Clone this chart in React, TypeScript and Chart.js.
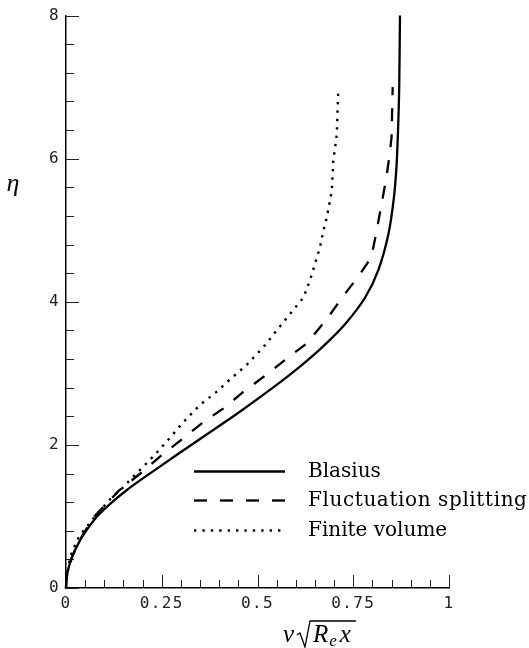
import React, { useEffect, useRef } from 'react';
import { Chart, registerables } from 'chart.js';

Chart.register(...registerables);

// ---- data ----
const seriesNames = ['Blasius', 'Fluctuation splitting', 'Finite volume'];

const xTickLabels = ['0', '0.25', '0.5', '0.75', '1'];
const yTickLabels = ['0', '2', '4', '6', '8'];

const blasiusV = [0, 0.001, 0.005, 0.017, 0.037, 0.058, 0.081, 0.116, 0.159, 0.211, 0.281, 0.371, 0.453, 0.543, 0.610, 0.670, 0.729, 0.781, 0.816, 0.842, 0.856, 0.863, 0.867, 0.870, 0.872];
const blasiusEta = [0, 0.1, 0.25, 0.45, 0.67, 0.84, 1.0, 1.18, 1.37, 1.57, 1.83, 2.16, 2.46, 2.81, 3.09, 3.37, 3.69, 4.06, 4.45, 4.95, 5.45, 5.9, 6.4, 7.0, 8.0];

const fluctV = [0, 0.001, 0.005, 0.017, 0.036, 0.055, 0.074, 0.138, 0.194, 0.246, 0.303, 0.359, 0.411, 0.463, 0.533, 0.577, 0.629, 0.681, 0.724, 0.768, 0.797, 0.811, 0.836, 0.846, 0.850, 0.853];
const fluctEta = [0, 0.1, 0.25, 0.45, 0.67, 0.84, 1.0, 1.36, 1.60, 1.84, 2.08, 2.32, 2.51, 2.74, 3.02, 3.21, 3.42, 3.76, 4.08, 4.39, 4.62, 4.99, 5.72, 6.1, 6.3, 7.0];

const fvV = [0, 0.002, 0.011, 0.029, 0.046, 0.068, 0.095, 0.12, 0.146, 0.176, 0.21, 0.235, 0.27, 0.305, 0.35, 0.395, 0.425, 0.472, 0.516, 0.550, 0.585, 0.620, 0.637, 0.650, 0.663, 0.672, 0.681, 0.694, 0.698, 0.707, 0.711];
const fvEta = [0, 0.15, 0.44, 0.67, 0.80, 0.95, 1.12, 1.27, 1.39, 1.56, 1.74, 1.88, 2.09, 2.31, 2.56, 2.75, 2.90, 3.12, 3.37, 3.60, 3.83, 4.06, 4.30, 4.53, 4.76, 4.99, 5.18, 5.55, 5.97, 6.34, 6.97];

const toPoints = (xs: number[], ys: number[]) => xs.map((x, i) => ({ x, y: ys[i] }));

const findLabel = (labels: string[], value: number) =>
  labels.find((l) => Math.abs(parseFloat(l) - value) < 1e-9) ?? '';

const decorPlugin = {
  id: 'decor',
  beforeDraw(chart: any) {
    chart.ctx.letterSpacing = '1.4px';
  },
  beforeDatasetsDraw(chart: any) {
    const ctx = chart.ctx;
    const xs = chart.scales.x;
    const ys = chart.scales.y;
    const { left, bottom } = chart.chartArea;
    ctx.save();
    ctx.letterSpacing = '0px';
    ctx.strokeStyle = '#222';
    ctx.lineWidth = 1;
    for (let i = 0; i <= 20; i++) {
      const px = Math.round(xs.getPixelForValue(i * 0.05)) + 0.5;
      const len = i % 5 === 0 ? 13 : 8;
      ctx.beginPath();
      ctx.moveTo(px, bottom);
      ctx.lineTo(px, bottom - len);
      ctx.stroke();
    }
    for (let i = 0; i <= 20; i++) {
      const py = Math.round(ys.getPixelForValue(i * 0.4)) + 0.5;
      const len = i % 5 === 0 ? 13 : 8;
      ctx.beginPath();
      ctx.moveTo(left, py);
      ctx.lineTo(left + len, py);
      ctx.stroke();
    }
    ctx.restore();
  },
  afterDraw(chart: any) {
    const ctx = chart.ctx;
    const ca = chart.chartArea;
    ctx.save();
    ctx.letterSpacing = '0px';
    ctx.fillStyle = '#000';
    ctx.strokeStyle = '#000';

    // legend
    const lx0 = ca.left + 128;
    const lx1 = ca.left + 219;
    const tx = ca.left + 242;
    const rowY = [ca.top + 455, ca.top + 484.5, ca.top + 514];
    chart.data.datasets.forEach((ds: any, i: number) => {
      const y = Math.round(rowY[i]) + 0.5;
      ctx.setLineDash(ds.borderDash || []);
      ctx.lineWidth = ds.borderWidth;
      ctx.lineCap = 'butt';
      ctx.beginPath();
      ctx.moveTo(lx0, y);
      ctx.lineTo(lx1, y);
      ctx.stroke();
      ctx.setLineDash([]);
      ctx.font = '20px "DejaVu Serif"';
      ctx.textAlign = 'left';
      ctx.textBaseline = 'alphabetic';
      ctx.letterSpacing = i === 1 ? '0.6px' : '0px';
      ctx.fillText(ds.label, tx, y + 5);
      ctx.letterSpacing = '0px';
    });

    // y title: eta
    ctx.font = 'italic 26px "Liberation Serif"';
    ctx.textAlign = 'center';
    ctx.textBaseline = 'alphabetic';
    ctx.fillText('\u03B7', ca.left - 53, ca.top + 175);

    // x title: v sqrt(R_e x)
    const bx = ca.left + 217;
    const by = ca.bottom + 54;
    ctx.textAlign = 'left';
    ctx.font = 'italic 25px "Liberation Serif"';
    ctx.fillText('v', bx, by);
    const rx = bx + 30;
    ctx.fillText('R', rx, by);
    const rw = ctx.measureText('R').width;
    ctx.font = 'italic 17px "Liberation Serif"';
    const ex = rx + rw + 1;
    ctx.fillText('e', ex, by + 4);
    const ew = ctx.measureText('e').width;
    ctx.font = 'italic 25px "Liberation Serif"';
    const xx = ex + ew + 3;
    ctx.fillText('x', xx, by);
    const xw = ctx.measureText('x').width;
    ctx.lineWidth = 1.3;
    ctx.lineJoin = 'miter';
    ctx.beginPath();
    ctx.moveTo(bx + 14, by - 7);
    ctx.lineTo(bx + 17, by - 9);
    ctx.lineTo(bx + 22, by + 5);
    ctx.lineTo(bx + 27, by - 21);
    ctx.lineTo(xx + xw + 5, by - 21);
    ctx.stroke();
    ctx.restore();
  },
};

export default function App() {
  const canvasRef = useRef<HTMLCanvasElement | null>(null);

  useEffect(() => {
    document.body.style.margin = '0';
    const canvas = canvasRef.current;
    if (!canvas) return;
    const chart = new Chart(canvas, {
      type: 'line',
      data: {
        datasets: [
          {
            label: seriesNames[0],
            data: toPoints(blasiusV, blasiusEta),
            borderColor: '#000',
            borderWidth: 2.3,
            tension: 0.3,
            pointRadius: 0,
            fill: false,
            clip: false as any,
            borderJoinStyle: 'round',
          },
          {
            label: seriesNames[1],
            data: toPoints(fluctV, fluctEta),
            borderColor: '#000',
            borderWidth: 2.3,
            borderDash: [13, 13],
            tension: 0,
            pointRadius: 0,
            fill: false,
            clip: false as any,
          },
          {
            label: seriesNames[2],
            data: toPoints(fvV, fvEta),
            borderColor: '#000',
            borderWidth: 2.4,
            borderDash: [2.4, 6],
            tension: 0,
            pointRadius: 0,
            fill: false,
            clip: false as any,
          },
        ],
      },
      options: {
        animation: false,
        responsive: false,
        maintainAspectRatio: false,
        layout: { padding: { left: 0, right: 80, top: 14, bottom: 0 } },
        plugins: {
          legend: { display: false },
          tooltip: { enabled: false },
        },
        elements: { line: { borderCapStyle: 'butt' } },
        scales: {
          x: {
            type: 'linear',
            position: 'bottom',
            min: 0,
            max: 1,
            grid: { display: false, drawTicks: false },
            border: { display: true, color: '#000', width: 1.5 },
            ticks: {
              stepSize: 0.25,
              autoSkip: false,
              maxRotation: 0,
              padding: 6,
              color: '#222',
              font: { family: '"DejaVu Sans Mono", monospace', size: 16 },
              callback: (v: any) => findLabel(xTickLabels, Number(v)),
            },
            afterFit: (scale: any) => {
              scale.height = 60;
            },
          },
          y: {
            type: 'linear',
            min: 0,
            max: 8,
            grid: { display: false, drawTicks: false },
            border: { display: true, color: '#000', width: 1.5 },
            ticks: {
              stepSize: 2,
              autoSkip: false,
              padding: 6,
              color: '#222',
              font: { family: '"DejaVu Sans Mono", monospace', size: 16 },
              callback: (v: any) => findLabel(yTickLabels, Number(v)),
            },
            afterFit: (scale: any) => {
              scale.width = 66;
            },
          },
        },
      } as any,
      plugins: [decorPlugin],
    });
    return () => chart.destroy();
  }, []);

  return (
    <div style={{ width: 529, height: 648, position: 'relative' }}>
      <canvas ref={canvasRef} width={529} height={648} style={{ width: 529, height: 648, display: 'block' }} />
    </div>
  );
}
